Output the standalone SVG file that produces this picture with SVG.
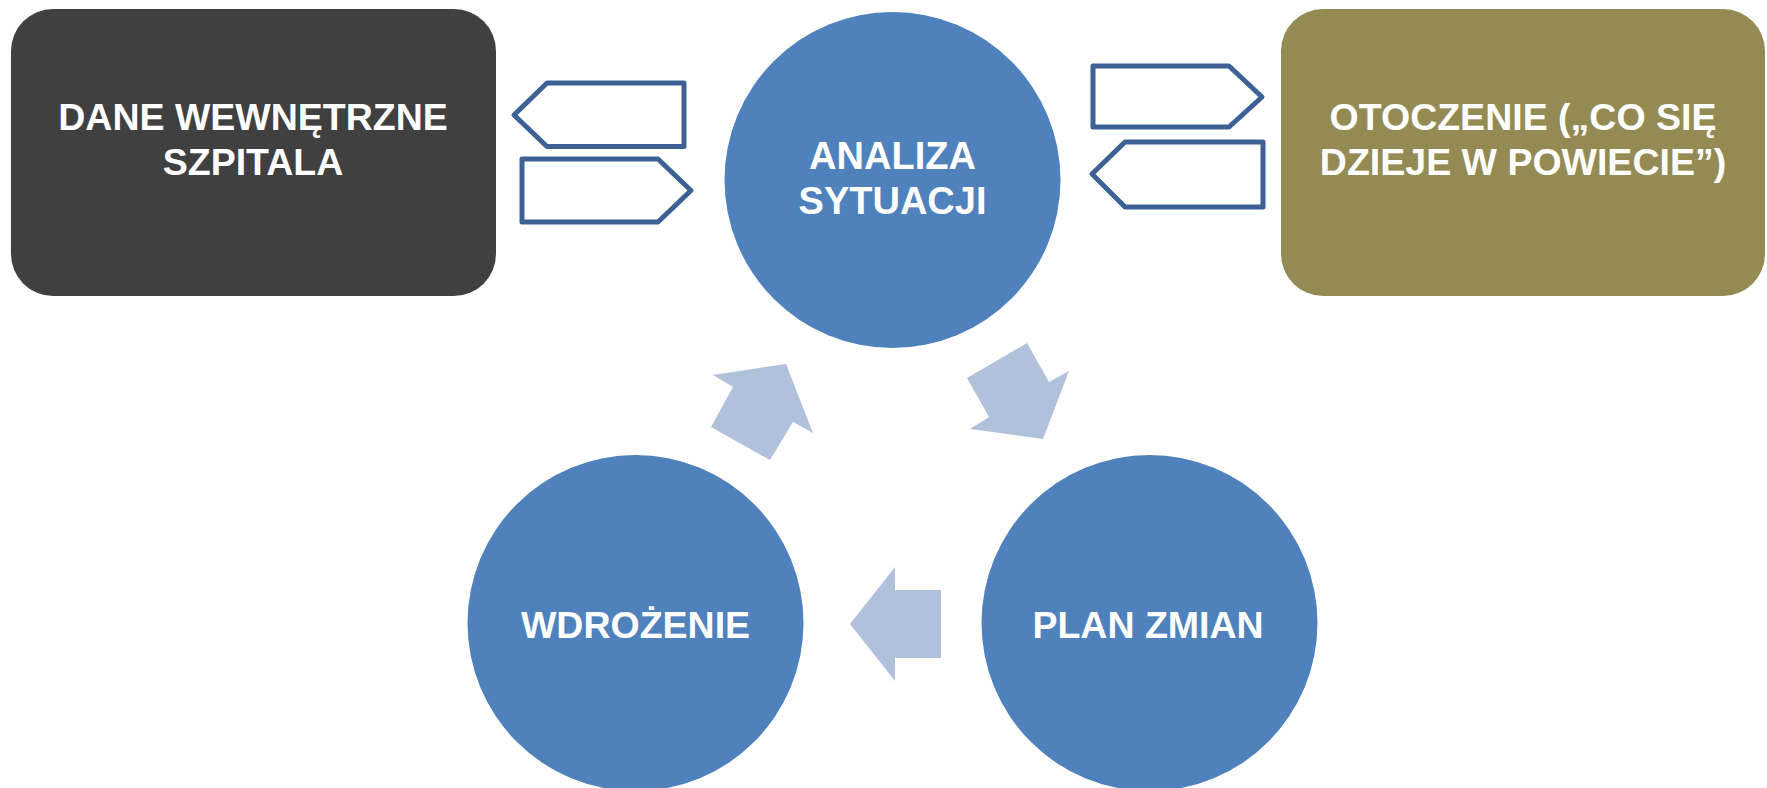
<svg xmlns="http://www.w3.org/2000/svg" width="1767" height="788" viewBox="0 0 1767 788">
<style>
.lbl{font-family:"Liberation Sans",Arial,sans-serif;font-weight:bold;font-size:38px;fill:#ffffff;text-anchor:middle}
.box{font-size:37.5px}
.circ{fill:#4f81bd}
.pent{fill:#ffffff;stroke:#3d6194;stroke-width:5;stroke-linejoin:round}
.blk{fill:#b1c1dc}
</style>
<rect width="1767" height="788" fill="#ffffff"/>
<g id="dane">
<rect x="11" y="9" width="485" height="287" rx="42" fill="#404040"/>
<text class="lbl box" x="253" y="130">DANE WEWNĘTRZNE</text>
<text class="lbl box" x="253" y="175">SZPITALA</text>
</g>
<g id="otoczenie">
<rect x="1281" y="9" width="484" height="287" rx="42" fill="#948a54"/>
<text class="lbl box" x="1523" y="130">OTOCZENIE („CO SIĘ</text>
<text class="lbl box" x="1523" y="175">DZIEJE W POWIECIE”)</text>
</g>
<g id="analiza">
<circle class="circ" cx="892.5" cy="180" r="168"/>
<text class="lbl" x="892.5" y="169">ANALIZA</text>
<text class="lbl" x="892.5" y="214">SYTUACJI</text>
</g>
<g id="wdrozenie">
<circle class="circ" cx="635.5" cy="623" r="168"/>
<text class="lbl" x="635.5" y="638" style="font-size:37.5px">WDROŻENIE</text>
</g>
<g id="plan">
<circle class="circ" cx="1149.5" cy="623" r="168"/>
<text class="lbl" x="1148" y="638" style="font-size:37.5px">PLAN ZMIAN</text>
</g>
<g id="connectors">
<polygon class="pent" points="514,115 547,83 684,83 684,146.5 547,146.5"/>
<polygon class="pent" points="522,159 658,159 691,190.5 658,222 522,222"/>
<polygon class="pent" points="1093,66 1229,66 1262,97 1229,127 1093,127"/>
<polygon class="pent" points="1092,174 1125,142 1263,142 1263,207 1125,207"/>
<polygon class="blk" points="786,364 813,433 793,422 770,460 711,427 733,387 713,375"/>
<polygon class="blk" points="967,378 1027,343 1049,382 1069,371 1043,439 970,429 989,417"/>
<polygon class="blk" points="850,624 895,567 895,590 941,590 941,658 895,658 895,681"/>
</g>
</svg>
